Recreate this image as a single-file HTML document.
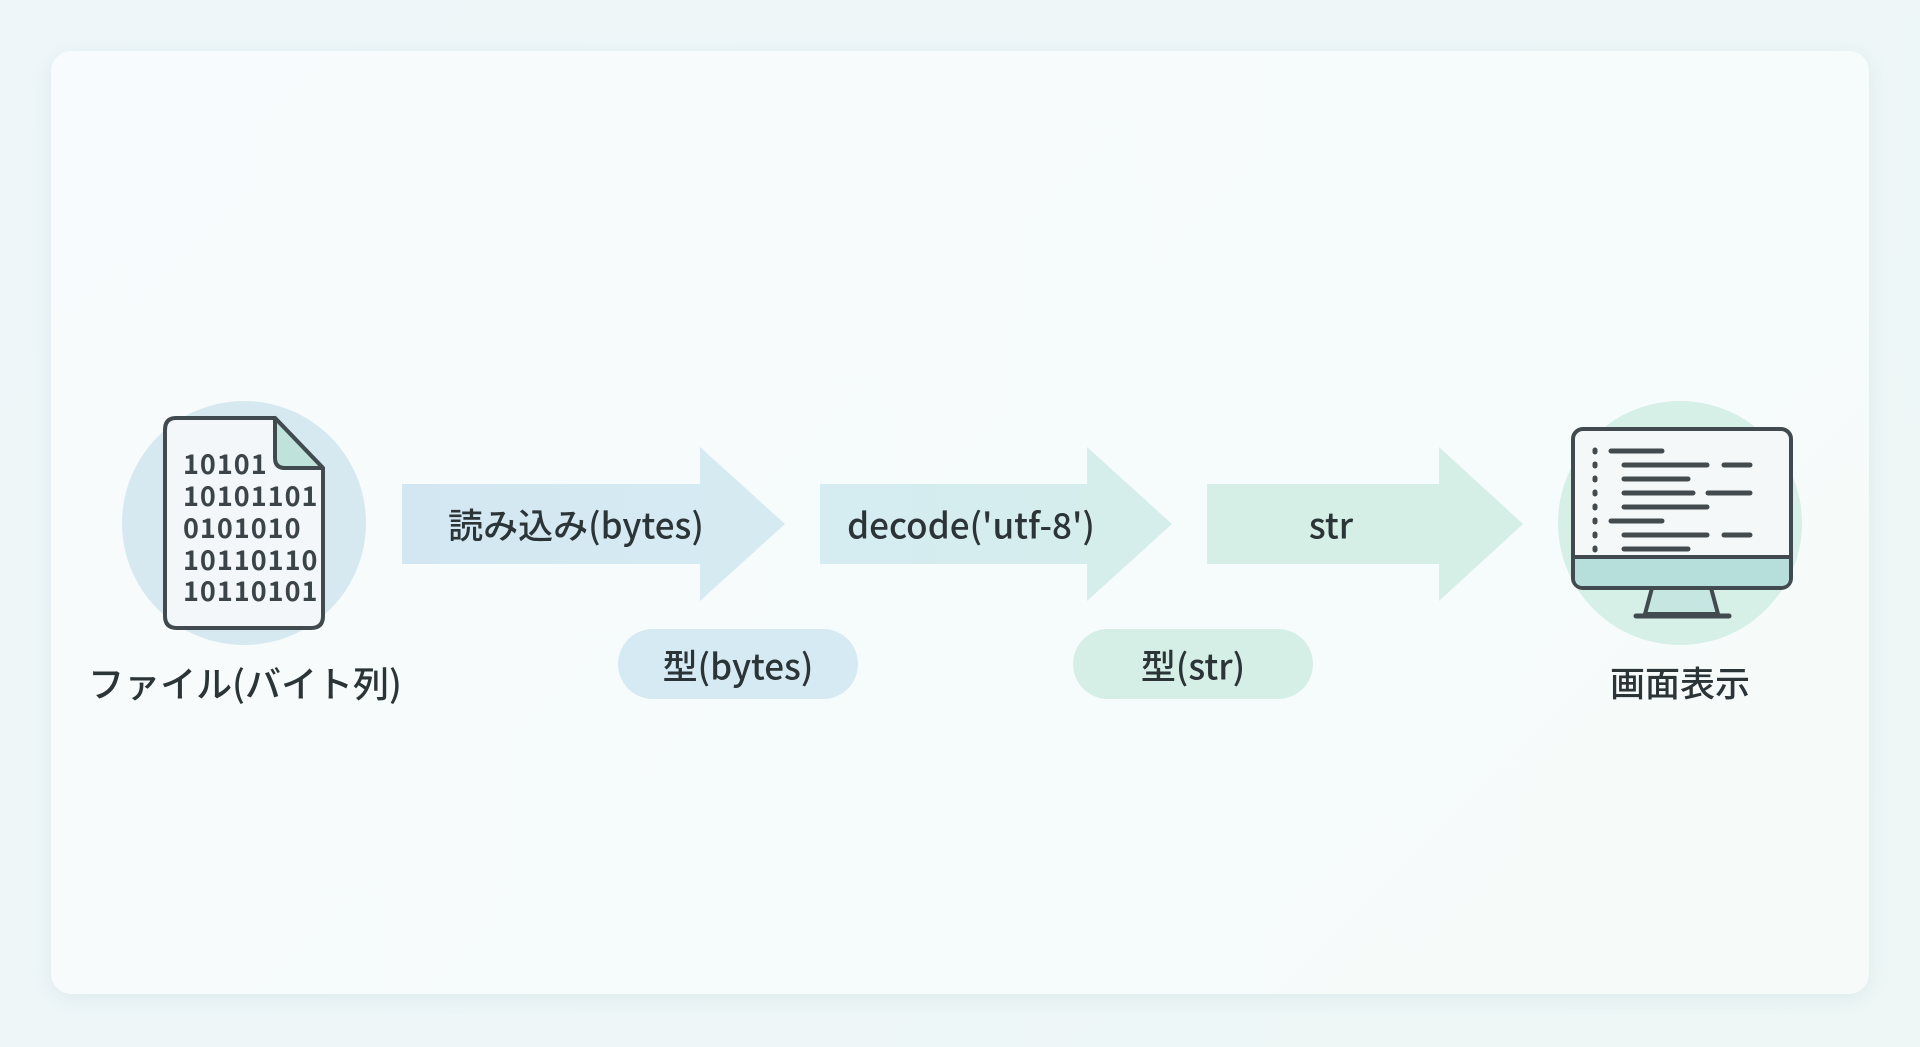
<!DOCTYPE html>
<html><head><meta charset="utf-8"><style>
html,body{margin:0;padding:0;width:1920px;height:1047px;overflow:hidden;background:linear-gradient(135deg,#eef6f9,#eef7f6);font-family:"Noto Sans CJK JP","Liberation Sans",sans-serif;}
.card{position:absolute;left:51px;top:51px;width:1818px;height:943px;border-radius:20px;background:linear-gradient(135deg,#f7fbfd,#f6fbfa);box-shadow:0 4px 20px rgba(150,180,190,0.18);}
.t{position:absolute;color:#2b3437;font-weight:500;white-space:nowrap;transform:translate(-50%,-50%);}
</style></head><body>
<div class="card"></div>
<svg width="1920" height="1047" style="position:absolute;left:0;top:0">
<defs>
<linearGradient id="g1" x1="0" x2="1"><stop offset="0" stop-color="#d3e7f3"/><stop offset="1" stop-color="#d6ebf1"/></linearGradient>
<linearGradient id="g2" x1="0" x2="1"><stop offset="0" stop-color="#d5ecf1"/><stop offset="1" stop-color="#d5eeeb"/></linearGradient>
</defs>
<circle cx="244" cy="523" r="122" fill="#d6e9f1"/>
<circle cx="1680" cy="523" r="122" fill="#d6efe7"/>
<polygon points="402,484 700,484 700,447 785,524 700,601 700,564 402,564" fill="url(#g1)"/>
<polygon points="820,484 1087,484 1087,447 1172,524 1087,601 1087,564 820,564" fill="url(#g2)"/>
<polygon points="1207,484 1439,484 1439,447 1523,524 1439,601 1439,564 1207,564" fill="#d6efe6"/>
<rect x="618" y="629" width="240" height="70" rx="35" fill="#d6eaf3"/>
<rect x="1073" y="629" width="240" height="70" rx="35" fill="#d6efe6"/>
<path d="M176,418 H275 L323,468 V616 Q323,628 311,628 H177 Q165,628 165,616 V430 Q165,418 176,418 Z" fill="#f3f7f9" stroke="#414a4e" stroke-width="4" stroke-linejoin="round"/>
<path d="M275,418 V458 Q275,468 285,468 H323 Z" fill="#bfe3da" stroke="#414a4e" stroke-width="4" stroke-linejoin="round"/>
<g font-family="Noto Sans CJK JP, Liberation Sans, sans-serif" font-weight="bold" font-size="27" fill="#3b4448" letter-spacing="1">
<text x="183" y="474">10101</text>
<text x="183" y="506">10101101</text>
<text x="183" y="538">0101010</text>
<text x="183" y="570">10110110</text>
<text x="183" y="601">10110101</text>
</g>
<rect x="1573" y="429" width="218" height="159" rx="10" fill="#f4f8f9" stroke="#414a4e" stroke-width="4"/>
<path d="M1575,557 H1789 V578 Q1789,586 1781,586 H1583 Q1575,586 1575,578 Z" fill="#b6dfdb"/>
<line x1="1575" y1="557" x2="1789" y2="557" stroke="#414a4e" stroke-width="4"/>
<polygon points="1652,588 1711,588 1718,614 1645,614" fill="#c5e6e1" stroke="#414a4e" stroke-width="4" stroke-linejoin="round"/>
<line x1="1636" y1="616" x2="1729" y2="616" stroke="#414a4e" stroke-width="5" stroke-linecap="round"/>
<g stroke="#434b4f" stroke-width="5" stroke-linecap="round">
<line x1="1595" y1="450" x2="1595" y2="452"/><line x1="1611" y1="451" x2="1662" y2="451"/>
<line x1="1595" y1="464" x2="1595" y2="466"/><line x1="1624" y1="465" x2="1707" y2="465"/><line x1="1724" y1="465" x2="1750" y2="465"/>
<line x1="1595" y1="478" x2="1595" y2="480"/><line x1="1624" y1="479" x2="1688" y2="479"/>
<line x1="1595" y1="492" x2="1595" y2="494"/><line x1="1624" y1="493" x2="1693" y2="493"/><line x1="1708" y1="493" x2="1750" y2="493"/>
<line x1="1595" y1="506" x2="1595" y2="508"/><line x1="1624" y1="507" x2="1707" y2="507"/>
<line x1="1595" y1="520" x2="1595" y2="522"/><line x1="1611" y1="521" x2="1662" y2="521"/>
<line x1="1595" y1="534" x2="1595" y2="536"/><line x1="1624" y1="535" x2="1707" y2="535"/><line x1="1724" y1="535" x2="1750" y2="535"/>
<line x1="1595" y1="548" x2="1595" y2="550"/><line x1="1624" y1="549" x2="1688" y2="549"/>
</g>
</svg>
<div class="t" style="left:245px;top:682px;font-size:36px">ファイル(バイト列)</div>
<div class="t" style="left:576px;top:524px;font-size:35px">読み込み(bytes)</div>
<div class="t" style="left:971px;top:524px;font-size:35px">decode('utf-8')</div>
<div class="t" style="left:1331px;top:524px;font-size:35px">str</div>
<div class="t" style="left:738px;top:665px;font-size:35px">型(bytes)</div>
<div class="t" style="left:1193px;top:665px;font-size:35px">型(str)</div>
<div class="t" style="left:1680px;top:682px;font-size:35px">画面表示</div>
</body></html>
